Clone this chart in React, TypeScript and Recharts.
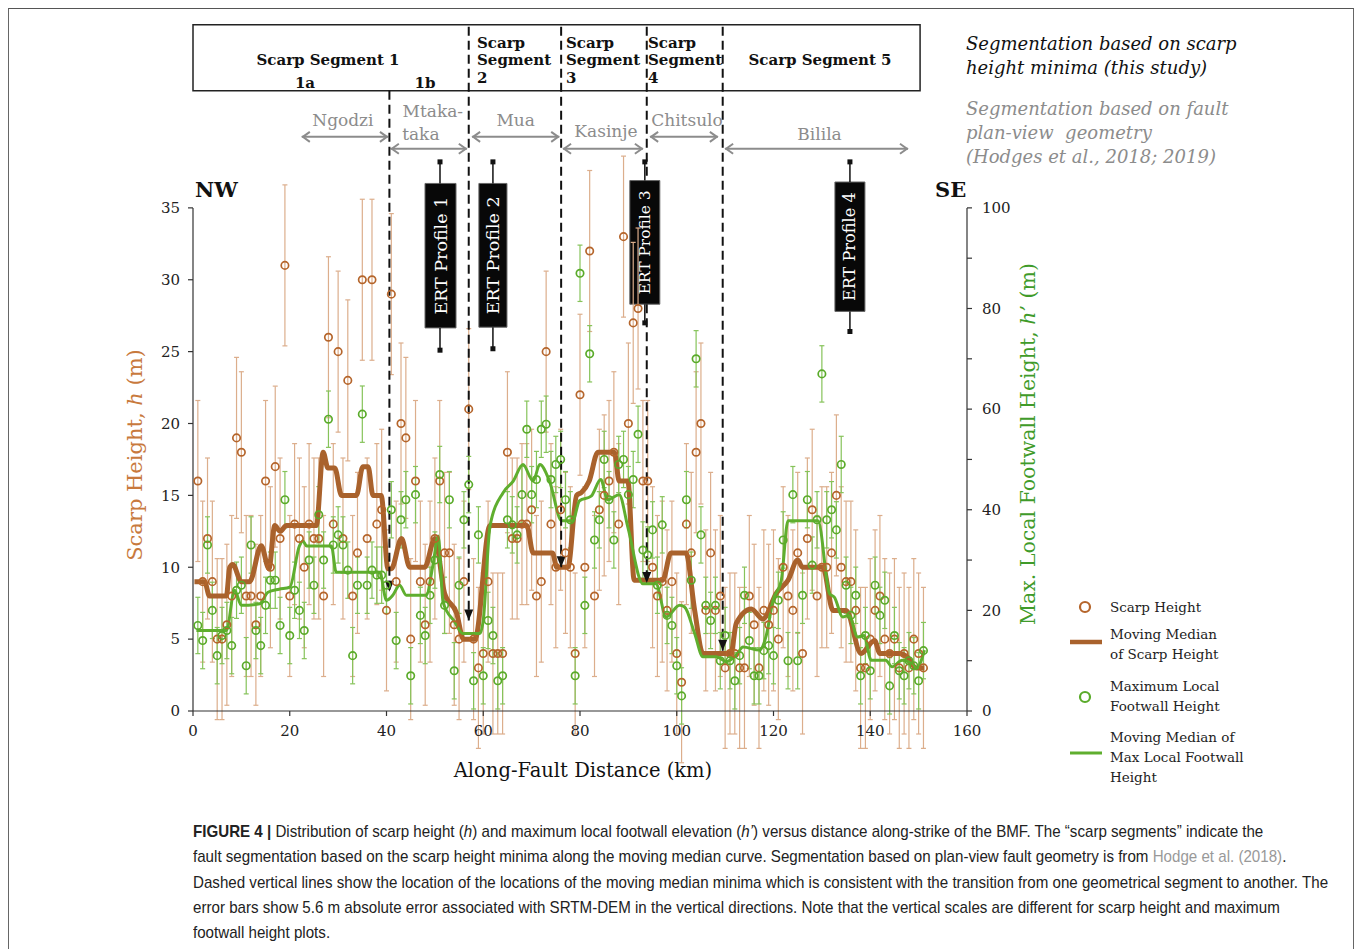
import React from 'react';
import {
  ComposedChart,
  Scatter,
  Line,
  XAxis,
  YAxis,
  ErrorBar,
  ReferenceLine,
  ReferenceArea,
} from 'recharts';

// ---------------- DATA ----------------
const DISTANCE_KM = [
  1, 2, 3, 4, 5, 6, 7, 8, 9, 10,
  11, 12, 13, 14, 15, 16, 17, 18, 19, 20,
  21, 22, 23, 24, 25, 26, 27, 28, 29, 30,
  31, 32, 33, 34, 35, 36, 37, 38, 39, 40,
  41, 42, 43, 44, 45, 46, 47, 48, 49, 50,
  51, 52, 53, 54, 55, 56, 57, 58, 59, 60,
  61, 62, 63, 64, 65, 66, 67, 68, 69, 70,
  71, 72, 73, 74, 75, 76, 77, 78, 79, 80,
  81, 82, 83, 84, 85, 86, 87, 88, 89, 90,
  91, 92, 93, 94, 95, 96, 97, 98, 99, 100,
  101, 102, 103, 104, 105, 106, 107, 108, 109, 110,
  111, 112, 113, 114, 115, 116, 117, 118, 119, 120,
  121, 122, 123, 124, 125, 126, 127, 128, 129, 130,
  131, 132, 133, 134, 135, 136, 137, 138, 139, 140,
  141, 142, 143, 144, 145, 146, 147, 148, 149, 150,
  151,
];

// Scarp height h (m)
const SCARP_HEIGHT = [
  16, 9, 12, 9, 5, 5, 6, 8, 19, 18,
  8, 8, 6, 8, 16, 10, 17, 12, 31, 8,
  13, 12, 10, 13, 12, 12, 8, 26, 13, 25,
  12, 23, 8, 11, 30, 12, 30, 13, 14, 7,
  29, 9, 20, 19, 5, 16, 9, 6, 9, 12,
  16, 11, 11, 6, 5, 9, 21, 5, 3, 4,
  9, 4, 4, 4, 18, 12, 12, 13, 13, 14,
  8, 9, 25, 13, 10, 14, 11, 10, 4, 22,
  10, 32, 8, 14, 15, 16, 18, 13, 33, 20,
  27, 28, 16, 16, 10, 8, 9, 7, 9, 4,
  2, 13, 11, 18, 20, 7, 11, 7, 8, 3,
  4, 4, 3, 3, 8, 6, 3, 7, 6, 7,
  5, 10, 8, 7, 11, 4, 12, 14, 8, 10,
  10, 11, 15, 10, 9, 9, 7, 3, 3, 5,
  7, 8, 5, 4, 5, 3, 4, 3, 5, 4,
  3,
];

// Maximum local footwall height h' (m)
const FOOTWALL_HEIGHT = [
  17, 14, 33, 20, 11, 15, 16, 13, 24, 25,
  9, 33, 16, 13, 21, 26, 26, 17, 42, 15,
  24, 20, 16, 30, 25, 39, 30, 58, 33, 35,
  33, 28, 11, 25, 59, 25, 28, 27, 27, 25,
  40, 14, 38, 42, 7, 43, 19, 15, 23, 30,
  47, 21, 42, 8, 25, 38, 45, 6, 35, 7,
  18, 15, 6, 7, 38, 37, 35, 43, 56, 43,
  46, 56, 57, 46, 49, 50, 42, 38, 7, 87,
  21, 71, 34, 38, 50, 42, 34, 49, 50, 43,
  46, 55, 32, 31, 36, 25, 37, 19, 17, 9,
  3, 42, 26, 70, 35, 21, 18, 21, 10, 15,
  10, 6, 11, 23, 14, 7, 7, 12, 13, 11,
  22, 34, 10, 43, 10, 23, 42, 29, 38, 67,
  38, 40, 36, 49, 25, 19, 23, 7, 15, 8,
  25, 19, 22, 5, 15, 8, 7, 10, 9, 6,
  12,
];

const SRTM_ERROR_M = 5.6;

// Moving median of scarp height
const SCARP_MEDIAN_KM = [
  0.3, 2.4, 3.4, 6.9, 7.6, 8.2, 10, 11.7, 14.1, 15.7,
  16.9, 18, 19.3, 25.5, 26.9, 27.9, 29.3, 30.7, 33.8, 35.1,
  36.2, 37.2, 38.9, 40.3, 41, 43.1, 44.8, 47.9, 50, 52,
  54.5, 55.9, 58.3, 61.4, 69, 70.3, 74.3, 75.2, 77.5, 79.3,
  80.3, 81.9, 83.7, 87.1, 88.1, 89.9, 91.2, 97.1, 98.8, 101.9,
  103.7, 105.4, 111.2, 112.3, 115.4, 117.8, 120.6, 123, 125, 126,
  130.2, 132.3, 135, 138.1, 140.9, 142, 146.1, 147.5, 149.5, 151.2,
];
const SCARP_MEDIAN_H = [
  9, 9, 8, 8, 10, 10.2, 9, 9, 11.5, 9.9,
  12.9, 12.5, 12.9, 12.9, 18, 16.9, 16.9, 15, 15, 17,
  17, 15, 15, 9.9, 9.9, 12, 10, 10, 12, 8.2,
  6.8, 5, 5, 12.9, 12.9, 11, 11, 10, 10, 15,
  15.2, 16, 18, 18, 16, 16, 9.1, 9.1, 11, 11,
  7, 4, 4, 6.1, 7.1, 6.4, 8.2, 9.1, 10.5, 10,
  10, 7, 7, 4, 4.9, 4, 4, 3.8, 3, 3,
];

// Moving median of max local footwall height
const FOOTWALL_MEDIAN_KM = [
  0.7, 6.9, 8.6, 10, 13.8, 15.5, 17.8, 20, 22, 22.7,
  23.5, 28.6, 29.6, 38.6, 40, 41.3, 42.7, 44.1, 48.2, 49.6,
  50.7, 51.7, 54.1, 55.8, 59.3, 60, 61.4, 64.1, 66.2, 68.2,
  70.3, 71.7, 73.7, 76.2, 78.5, 79.9, 82.3, 84.3, 85.7, 88.1,
  89.9, 93, 95.7, 97.8, 100.6, 101.6, 103.7, 105.4, 108.2, 110.2,
  112.3, 113.7, 117.1, 118.5, 119.9, 121.6, 123, 129.2, 131.6, 132.6,
  134.3, 135.6, 137.4, 138.7, 140.2, 143.2, 144.5, 146.6, 148.6, 149.6,
  151.2,
];
const FOOTWALL_MEDIAN_H = [
  16, 16, 24, 21, 21.3, 23.6, 24.2, 24.6, 32.8, 33.8,
  32.8, 32.8, 27.6, 27.6, 22, 23, 25, 23, 23, 29,
  34.8, 21.6, 17.7, 15.4, 15.4, 18, 36.8, 43.4, 45.7, 49,
  45.7, 49, 45.7, 37.8, 37.8, 41.8, 42.7, 46, 42, 43,
  36.5, 25.3, 25.3, 18.7, 21, 20.7, 15.4, 10.8, 10.8, 9.8,
  11.1, 12.7, 12.1, 15, 22, 25.9, 37.8, 37.8, 23.3, 22.6,
  18.7, 19, 14.7, 15, 10.1, 10.1, 8.8, 10.1, 9.4, 8.5,
  12.1,
];

const X_TICKS = [0, 20, 40, 60, 80, 100, 120, 140, 160];
const LEFT_TICKS = [0, 5, 10, 15, 20, 25, 30, 35];
const RIGHT_TICKS = [0, 10, 20, 30, 40, 50, 60, 70, 80, 90, 100];

// Segment boundaries (moving-median minima), km, with top/tip heights on h scale
const DIVIDER_KM = [40.6, 57.0, 76.1, 93.8, 109.5];
const DIVIDER_TOP_H = [43.15, 47.6, 47.6, 47.6, 47.6];
const DIVIDER_TIP_H = [8.3, 6.3, 10.0, 8.9, 4.2];

// Plan-view fault segments (Hodge et al.)
const FAULT_SEGMENT_NAMES = ['Ngodzi', 'Mtaka-taka', 'Mua', 'Kasinje', 'Chitsulo', 'Bilila'];
const FAULT_SEGMENT_FROM_KM = [22.5, 40.9, 57.7, 76.5, 94.5, 110.0];
const FAULT_SEGMENT_TO_KM = [40.3, 56.6, 75.7, 93.0, 108.5, 147.8];

// ERT profile locations (km)
const ERT_NAMES = ['ERT Profile 1', 'ERT Profile 2', 'ERT Profile 3', 'ERT Profile 4'];
const ERT_KM = [51.06, 62.0, 93.4, 135.8];

// ---------------- LAYOUT / STYLE ----------------
const LEFT_MAX = 48;
const RIGHT_MAX = (LEFT_MAX * 100) / 35;
const SERIF = "'DejaVu Serif', 'Liberation Serif', serif";
const BROWN = '#b5652b';
const BROWN_ERR = '#dcae8c';
const BROWN_LINE = '#a9622c';
const GREEN = '#5aab2a';
const GREEN_ERR = '#86c35a';
const GREEN_LINE = '#5fae2e';
const GRAY = '#8c8c8c';

const FAULT_LEVEL_H = [39.94, 39.11, 39.94, 39.11, 39.94, 39.11];
const FAULT_TEXT = [
  [{ t: 'Ngodzi', dx: -2, dy: -11 }],
  [
    { t: 'Mtaka-', dx: 4, dy: -32 },
    { t: 'taka', dx: -8, dy: -9 },
  ],
  [{ t: 'Mua', dx: 0, dy: -11 }],
  [{ t: 'Kasinje', dx: 3, dy: -12 }],
  [{ t: 'Chitsulo', dx: 3, dy: -11 }],
  [{ t: 'Bilila', dx: 3, dy: -9 }],
];

const ERT_BOX = [
  { x1: 47.96, x2: 54.37, top: 36.7, bottom: 26.65, lineTop: 38.2, lineBottom: 25.1 },
  { x1: 59.1, x2: 64.9, top: 36.7, bottom: 26.7, lineTop: 38.2, lineBottom: 25.2 },
  { x1: 90.3, x2: 96.5, top: 36.9, bottom: 28.3, lineTop: 38.2, lineBottom: 27.0 },
  { x1: 132.7, x2: 138.9, top: 36.8, bottom: 27.8, lineTop: 38.2, lineBottom: 26.4 },
];
// divider index -> ERT box index that hides part of it
const DIVIDER_HIDDEN_BY_ERT: Record<number, number> = { 3: 2 };

const scarpPoints = DISTANCE_KM.map((km, i) => ({ km, h: SCARP_HEIGHT[i], err: SRTM_ERROR_M }));
const footwallPoints = DISTANCE_KM.map((km, i) => ({ km, hp: FOOTWALL_HEIGHT[i], err: SRTM_ERROR_M }));
const scarpMedian = SCARP_MEDIAN_KM.map((km, i) => ({ km, h: SCARP_MEDIAN_H[i] }));
const footwallMedian = FOOTWALL_MEDIAN_KM.map((km, i) => ({ km, hp: FOOTWALL_MEDIAN_H[i] }));

const brownDot = (p: any) => (
  <circle cx={p.cx} cy={p.cy} r={3.7} fill="none" stroke={BROWN} strokeWidth={1.7} />
);
const greenDot = (p: any) => (
  <circle cx={p.cx} cy={p.cy} r={3.7} fill="none" stroke={GREEN} strokeWidth={1.7} />
);

const dividerArrow = (props: any) => {
  const vb = props.viewBox || {};
  const x = vb.x;
  const tip = vb.y + vb.height;
  return (
    <path d={`M${x - 4.5},${tip - 11} L${x + 4.5},${tip - 11} L${x},${tip} Z`} fill="#111" />
  );
};

const makeFaultLabel = (idx: number) => (props: any) => {
  const vb = props.viewBox || {};
  const x1 = vb.x;
  const x2 = vb.x + vb.width;
  const y = vb.y;
  const cx = (x1 + x2) / 2;
  return (
    <g>
      <path d={`M${x1 + 8},${y - 5} L${x1 + 1},${y} L${x1 + 8},${y + 5}`} fill="none" stroke={GRAY} strokeWidth={2} />
      <path d={`M${x2 - 8},${y - 5} L${x2 - 1},${y} L${x2 - 8},${y + 5}`} fill="none" stroke={GRAY} strokeWidth={2} />
      {FAULT_TEXT[idx].map((l, k) => (
        <text key={k} x={cx + l.dx} y={y + l.dy} textAnchor="middle" fontFamily={SERIF} fontSize={17} fill={GRAY}>
          {l.t}
        </text>
      ))}
    </g>
  );
};

const ertTopEnd = (props: any) => {
  const vb = props.viewBox || {};
  return <rect x={vb.x - 2.5} y={vb.y - 2.5} width={5} height={5} fill="#111" />;
};
const ertBottomEnd = (props: any) => {
  const vb = props.viewBox || {};
  return <rect x={vb.x - 2.5} y={vb.y + vb.height - 2.5} width={5} height={5} fill="#111" />;
};

const makeErtText = (name: string) => (props: any) => {
  const vb = props.viewBox || {};
  const cx = vb.x + vb.width / 2;
  const cy = vb.y + vb.height / 2;
  const fs = Math.min(17.5, (vb.height || 140) / 8);
  return (
    <text
      x={cx}
      y={cy}
      transform={`rotate(-90 ${cx} ${cy})`}
      textAnchor="middle"
      dominantBaseline="central"
      fontFamily={SERIF}
      fontSize={fs}
      fill="#fff"
    >
      {name}
    </text>
  );
};

const tickStyle = { fontFamily: SERIF, fontSize: 15, fill: '#222' };

function dividerSegments(i: number) {
  const km = DIVIDER_KM[i];
  const top = DIVIDER_TOP_H[i];
  const tip = DIVIDER_TIP_H[i];
  const hid = DIVIDER_HIDDEN_BY_ERT[i];
  if (hid === undefined) return [{ from: top, to: tip, arrow: true, km }];
  return [
    { from: top, to: ERT_BOX[hid].top, arrow: false, km },
    { from: ERT_BOX[hid].bottom, to: tip, arrow: true, km },
  ];
}

export default function App() {
  return (
    <div style={{ position: 'absolute', left: 0, top: 0, width: 1355, height: 949, overflow: 'hidden', background: '#fff' }}>
      <div
        style={{
          position: 'absolute',
          left: 8,
          top: 8,
          width: 1344,
          height: 960,
          borderTop: '1.5px solid #555',
          borderLeft: '1.5px solid #666',
          borderRight: '1.5px solid #666',
        }}
      />
      <div style={{ position: 'absolute', left: 0, top: 0 }}>
        <ComposedChart width={1355} height={800} margin={{ top: 21, right: 328, bottom: 49, left: 133 }}>
          <XAxis
            type="number"
            dataKey="km"
            domain={[0, 160]}
            ticks={X_TICKS}
            height={40}
            tickSize={5}
            tickMargin={9}
            axisLine={{ stroke: '#333', strokeWidth: 1.2 }}
            tickLine={{ stroke: '#333', strokeWidth: 1.2 }}
            tick={tickStyle}
          />
          <YAxis
            yAxisId="left"
            type="number"
            domain={[0, LEFT_MAX]}
            ticks={LEFT_TICKS}
            width={60}
            axisLine={false}
            tickSize={5}
            tickMargin={8}
            tickLine={{ stroke: '#333', strokeWidth: 1.2 }}
            tick={tickStyle}
            allowDataOverflow
          />
          <YAxis
            yAxisId="right"
            orientation="right"
            type="number"
            domain={[0, RIGHT_MAX]}
            ticks={RIGHT_TICKS}
            tickFormatter={(v: number) => (v % 20 === 0 ? String(v) : '')}
            width={60}
            axisLine={false}
            tickSize={5}
            tickMargin={10}
            tickLine={{ stroke: '#333', strokeWidth: 1.2 }}
            tick={tickStyle}
            allowDataOverflow
          />

          <ReferenceLine yAxisId="left" segment={[{ x: 0, y: 0 }, { x: 0, y: 35 }]} stroke="#333" strokeWidth={1.2} ifOverflow="visible" />
          <ReferenceLine yAxisId="right" segment={[{ x: 160, y: 0 }, { x: 160, y: 100 }]} stroke="#333" strokeWidth={1.2} ifOverflow="visible" />

          <Scatter yAxisId="left" data={scarpPoints} dataKey="h" shape={brownDot} isAnimationActive={false}>
            <ErrorBar dataKey="err" direction="y" width={2.5} stroke={BROWN_ERR} strokeWidth={1.2} isAnimationActive={false} />
          </Scatter>
          <Scatter yAxisId="right" data={footwallPoints} dataKey="hp" shape={greenDot} isAnimationActive={false}>
            <ErrorBar dataKey="err" direction="y" width={2.5} stroke={GREEN_ERR} strokeWidth={1.2} isAnimationActive={false} />
          </Scatter>

          <Line
            yAxisId="left"
            data={scarpMedian}
            dataKey="h"
            type="monotoneX"
            stroke={BROWN_LINE}
            strokeWidth={5}
            strokeLinejoin="round"
            dot={false}
            activeDot={false}
            isAnimationActive={false}
          />
          <Line
            yAxisId="right"
            data={footwallMedian}
            dataKey="hp"
            type="monotoneX"
            stroke={GREEN_LINE}
            strokeWidth={3}
            dot={false}
            activeDot={false}
            isAnimationActive={false}
          />

          {/* segmentation box */}
          <ReferenceArea
            yAxisId="left"
            x1={0}
            x2={150.3}
            y1={43.15}
            y2={47.74}
            fill="#fff"
            fillOpacity={1}
            stroke="#222"
            strokeWidth={1.5}
            ifOverflow="visible"
          />

          {/* plan-view fault segments */}
          {FAULT_SEGMENT_NAMES.map((n, i) => (
            <ReferenceLine
              key={n}
              yAxisId="left"
              segment={[
                { x: FAULT_SEGMENT_FROM_KM[i], y: FAULT_LEVEL_H[i] },
                { x: FAULT_SEGMENT_TO_KM[i], y: FAULT_LEVEL_H[i] },
              ]}
              stroke={GRAY}
              strokeWidth={2}
              ifOverflow="visible"
              label={makeFaultLabel(i)}
            />
          ))}

          {/* dashed segment boundaries */}
          {DIVIDER_KM.flatMap((_, i) =>
            dividerSegments(i).map((s, k) => (
              <ReferenceLine
                key={'d' + i + '-' + k}
                yAxisId="left"
                segment={[
                  { x: s.km, y: s.from },
                  { x: s.km, y: s.to },
                ]}
                stroke="#111"
                strokeWidth={2}
                strokeDasharray="9 5"
                ifOverflow="visible"
                label={s.arrow ? dividerArrow : undefined}
              />
            ))
          )}

          {/* ERT profile whiskers */}
          {ERT_NAMES.map((n, i) => (
            <ReferenceLine
              key={'lt' + n}
              yAxisId="left"
              segment={[
                { x: ERT_KM[i], y: ERT_BOX[i].lineTop },
                { x: ERT_KM[i], y: ERT_BOX[i].top },
              ]}
              stroke="#111"
              strokeWidth={1.5}
              ifOverflow="visible"
              label={ertTopEnd}
            />
          ))}
          {ERT_NAMES.map((n, i) => (
            <ReferenceLine
              key={'lb' + n}
              yAxisId="left"
              segment={[
                { x: ERT_KM[i], y: ERT_BOX[i].bottom },
                { x: ERT_KM[i], y: ERT_BOX[i].lineBottom },
              ]}
              stroke="#111"
              strokeWidth={1.5}
              ifOverflow="visible"
              label={ertBottomEnd}
            />
          ))}
          {ERT_NAMES.map((n, i) => (
            <ReferenceArea
              key={'a' + n}
              yAxisId="left"
              x1={ERT_BOX[i].x1}
              x2={ERT_BOX[i].x2}
              y1={ERT_BOX[i].bottom}
              y2={ERT_BOX[i].top}
              fill="#080808"
              fillOpacity={1}
              stroke="#666"
              strokeWidth={1}
              ifOverflow="visible"
              label={makeErtText(n)}
            />
          ))}
        </ComposedChart>
      </div>

      {/* static text overlay */}
      <svg width={1355} height={949} style={{ position: 'absolute', left: 0, top: 0, pointerEvents: 'none' }}>
        <g fontFamily={SERIF} fontWeight="bold" fontSize={15} fill="#111">
          <text x={328} y={65} textAnchor="middle">Scarp Segment 1</text>
          <text x={305} y={88} textAnchor="middle">1a</text>
          <text x={425} y={88} textAnchor="middle">1b</text>
          <text x={477} y={48}>Scarp</text>
          <text x={477} y={65}>Segment</text>
          <text x={477} y={83}>2</text>
          <text x={566} y={48}>Scarp</text>
          <text x={566} y={65}>Segment</text>
          <text x={566} y={83}>3</text>
          <text x={648} y={48}>Scarp</text>
          <text x={648} y={65}>Segment</text>
          <text x={648} y={83}>4</text>
          <text x={820} y={65} textAnchor="middle">Scarp Segment 5</text>
        </g>
        <g fontFamily={SERIF} fontWeight="bold" fontSize={21} fill="#111">
          <text x={195} y={197}>NW</text>
          <text x={935} y={197}>SE</text>
        </g>
        <g fontFamily={SERIF} fontStyle="italic" fontSize={18}>
          <text x={966} y={50} fill="#111">Segmentation based on scarp</text>
          <text x={966} y={74} fill="#111">height minima (this study)</text>
          <text x={966} y={115} fill={GRAY}>Segmentation based on fault</text>
          <text x={966} y={139} fill={GRAY} style={{ whiteSpace: 'pre' }}>plan-view  geometry</text>
          <text x={966} y={163} fill={GRAY}>(Hodges et al., 2018; 2019)</text>
        </g>
        <text
          x={135}
          y={455}
          transform="rotate(-90 135 455)"
          textAnchor="middle"
          dominantBaseline="central"
          fontFamily={SERIF}
          fontSize={21}
          fill="#c8793d"
        >
          Scarp Height, <tspan fontStyle="italic">h</tspan> (m)
        </text>
        <text
          x={1028}
          y={444}
          transform="rotate(-90 1028 444)"
          textAnchor="middle"
          dominantBaseline="central"
          fontFamily={SERIF}
          fontSize={20.5}
          fill="#3f9b2a"
        >
          Max. Local Footwall Height, <tspan fontStyle="italic">h’</tspan> (m)
        </text>
        <text x={583} y={777} textAnchor="middle" fontFamily={SERIF} fontSize={19.5} fill="#111">
          Along-Fault Distance (km)
        </text>

        {/* legend */}
        <g fontFamily={SERIF} fontSize={13.5} fill="#222">
          <circle cx={1085} cy={607} r={5} fill="none" stroke={BROWN} strokeWidth={2.2} />
          <text x={1110} y={612}>Scarp Height</text>
          <line x1={1070} y1={642} x2={1102} y2={642} stroke={BROWN_LINE} strokeWidth={4.5} />
          <text x={1110} y={639}>Moving Median</text>
          <text x={1110} y={659}>of Scarp Height</text>
          <circle cx={1085} cy={697} r={5} fill="none" stroke={GREEN} strokeWidth={2.2} />
          <text x={1110} y={691}>Maximum Local</text>
          <text x={1110} y={711}>Footwall Height</text>
          <line x1={1070} y1={753} x2={1102} y2={753} stroke={GREEN_LINE} strokeWidth={3} />
          <text x={1110} y={742}>Moving Median of</text>
          <text x={1110} y={762}>Max Local Footwall</text>
          <text x={1110} y={782}>Height</text>
        </g>
      </svg>

      {/* caption */}
      <div
        style={{
          position: 'absolute',
          left: 193,
          top: 819,
          fontFamily: "'Liberation Sans', Arial, sans-serif",
          fontSize: 17,
          lineHeight: '25.3px',
          color: '#222',
          whiteSpace: 'nowrap',
          transform: 'scaleX(0.89)',
          transformOrigin: 'left top',
        }}
      >
        <div>
          <b>FIGURE 4 |</b> Distribution of scarp height (<i>h</i>) and maximum local footwall elevation (<i>h’</i>) versus distance along-strike of the BMF. The “scarp segments” indicate the
        </div>
        <div>
          fault segmentation based on the scarp height minima along the moving median curve. Segmentation based on plan-view fault geometry is from{' '}
          <span style={{ color: '#999' }}>Hodge et al. (2018)</span>.
        </div>
        <div>
          Dashed vertical lines show the location of the locations of the moving median minima which is consistent with the transition from one geometrical segment to another. The
        </div>
        <div>
          error bars show 5.6 m absolute error associated with SRTM-DEM in the vertical directions. Note that the vertical scales are different for scarp height and maximum
        </div>
        <div>footwall height plots.</div>
      </div>
    </div>
  );
}
